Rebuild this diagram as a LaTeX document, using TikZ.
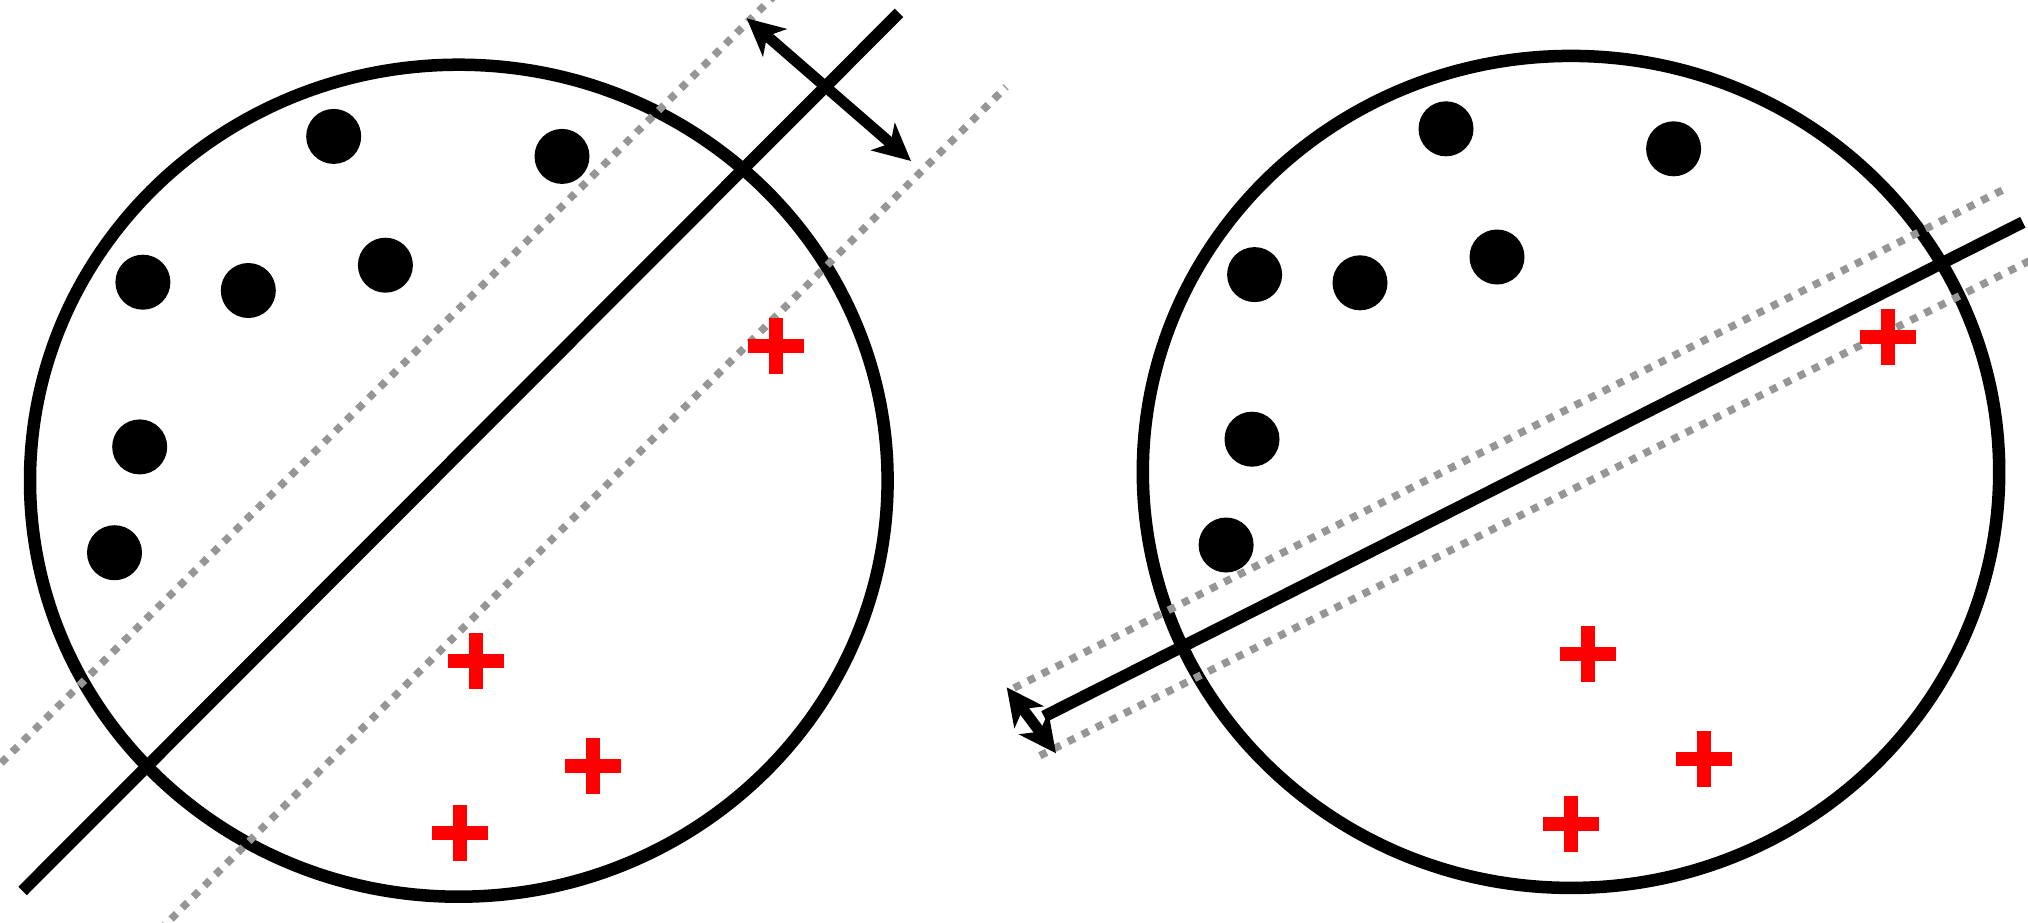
\documentclass[tikz,border=0pt]{standalone}
\usetikzlibrary{arrows.meta}
\definecolor{dotgray}{RGB}{150,150,150}
\definecolor{plusred}{RGB}{255,0,0}
\tikzset{
  outline/.style={draw=black, line width=12.5pt},
  sep/.style={draw=black, line width=12pt, line cap=butt},
  margin/.style={draw=dotgray, line width=7.5pt, line cap=butt, dash pattern=on 7.5pt off 8.2pt},
  dbl/.style={draw=black, line width=11pt, {Stealth[length=37pt,width=36pt,inset=10pt]}-{Stealth[length=37pt,width=36pt,inset=10pt]}},
  dotpt/.style={fill=black},
  pluspt/.pic={\fill[plusred] (-28,-7) rectangle (28,7); \fill[plusred] (-7,-28) rectangle (7,28);}
}
\begin{document}
\begin{tikzpicture}[x=1pt,y=-1pt]
\useasboundingbox (0,0) rectangle (2028,922);
\clip (0,0) rectangle (2028,922);
\fill[white] (0,0) rectangle (2028,922);

% ---------- left panel ----------
\draw[outline] (458.8,480.7) ellipse [x radius=428.8, y radius=416];
\coordinate (L1a) at (-10,774);
\coordinate (L1b) at (780,-10);
\coordinate (L2a) at (160,930);
\coordinate (L2b) at (1006,87);
\draw[margin] (L1a) -- (L1b);
\draw[margin] (L2a) -- (L2b);
\coordinate (LSa) at (22.6,890.9);
\coordinate (LSb) at (899,12.9);
\draw[sep] (LSa) -- (LSb);
\coordinate (LAa) at (746.7,18.3);
\coordinate (LAb) at (911,161);
\draw[dbl] (LAa) -- (LAb);

\foreach \p in {(333.7,136.4),(562,156.4),(142.9,282.2),(248.3,290.5),(385.4,265.2),(139.7,446.9),(114.5,552.7)}
  \fill[dotpt] \p circle (27.5);
\foreach \p in {(776,345.7),(476.3,661.3),(593.3,765.5),(459.5,832.7)}
  \pic at \p {pluspt};

% ---------- right panel ----------
\draw[outline] (1571,471.9) ellipse [x radius=428.2, y radius=416];
\coordinate (R1a) at (1014,688);
\coordinate (R1b) at (2006.6,188);
\coordinate (R2a) at (1039.9,755.6);
\coordinate (R2b) at (2040,255.6);
\draw[margin] (R1a) -- (R1b);
\draw[margin] (R2a) -- (R2b);
\coordinate (RSa) at (1044,716.5);
\coordinate (RSb) at (2022.8,222.3);
\draw[sep] (RSa) -- (RSb);
\coordinate (RAa) at (1006.7,687.3);
\coordinate (RAb) at (1056,753.3);
\draw[dbl] (RAa) -- (RAb);

\foreach \p in {(1446,128.8),(1673.6,148.8),(1254.6,274.6),(1360,282.8),(1497,257),(1252,439.2),(1226.1,545)}
  \fill[dotpt] \p circle (27.5);
\foreach \p in {(1888.3,336.9),(1588.2,653.8),(1704,758.5),(1571.4,824.4)}
  \pic at \p {pluspt};
\end{tikzpicture}
\end{document}
